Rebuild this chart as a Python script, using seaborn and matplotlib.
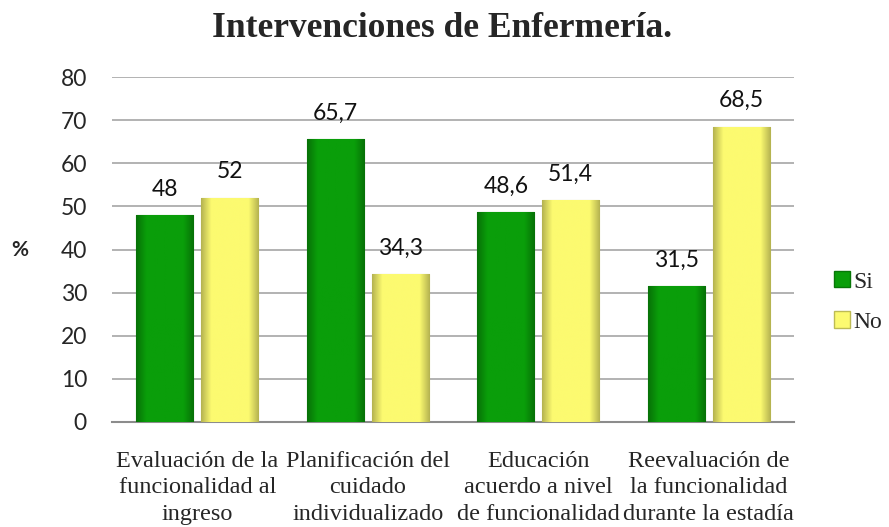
import matplotlib
matplotlib.use("Agg")
import matplotlib.pyplot as plt
import matplotlib.colors as mcolors
from matplotlib.patches import Patch
import seaborn as sns
import pandas as pd
import numpy as np

# Data
categories = [
    "Evaluación de la\nfuncionalidad al\ningreso",
    "Planificación del\ncuidado\nindividualizado",
    "Educación\nacuerdo a nivel\nde funcionalidad",
    "Reevaluación de\nla funcionalidad\ndurante la estadía",
]
si_values = [48, 65.7, 48.6, 31.5]
no_values = [52, 34.3, 51.4, 68.5]
series_names = ["Si", "No"]

df = pd.DataFrame({
    "Categoria": categories * 2,
    "Respuesta": [series_names[0]] * 4 + [series_names[1]] * 4,
    "Valor": si_values + no_values,
})

sns.set_style("white")
plt.rcParams["font.family"] = ["Liberation Serif", "DejaVu Serif"]
SANS = ["Lato", "DejaVu Sans"]

fig = plt.figure(figsize=(8.89, 5.27), dpi=100)
ax = fig.add_axes([112 / 889, 1 - 422 / 527, (794 - 112) / 889, (422 - 77) / 527])

palette = {"Si": "#0a9e0a", "No": "#fcfa70"}
sns.barplot(data=df, x="Categoria", y="Valor", hue="Respuesta", palette=palette,
            width=0.76, gap=0.12, ax=ax, legend=False, saturation=1,
            edgecolor="none", zorder=3)

# soft bevel: horizontal gradient clipped to each bar
profile = np.concatenate([np.linspace(0.72, 1.0, 12), np.ones(40), np.linspace(1.0, 0.72, 12)])
for patch in ax.patches:
    base = np.array(mcolors.to_rgb(patch.get_facecolor()))
    x0, y0 = patch.get_x(), patch.get_y()
    w, h = patch.get_width(), patch.get_height()
    img = np.clip(base[None, None, :] * profile[None, :, None], 0, 1)
    im = ax.imshow(img, extent=[x0, x0 + w, y0, y0 + h], aspect="auto",
                   zorder=3.5, interpolation="bilinear")
    im.set_clip_path(patch)
    patch.set_edgecolor(tuple(base * 0.75))
    patch.set_linewidth(0.8)

for cont in ax.containers:
    labels = [f"{v:g}".replace(".", ",") for v in cont.datavalues]
    ax.bar_label(cont, labels=labels, padding=11, fontsize=16.5,
                 family=SANS, color="#111111", zorder=5)

ax.set_ylim(0, 80)
ax.set_xlim(-0.5, 3.5)
ax.set_yticks(range(0, 81, 10))
ax.yaxis.grid(True, color="#a6a6a6", linewidth=1.2, zorder=0)
ax.set_axisbelow(True)
for side in ["top", "right", "left"]:
    ax.spines[side].set_visible(False)
ax.spines["bottom"].set_color("#8c8c8c")
ax.spines["bottom"].set_linewidth(1.5)
ax.tick_params(axis="y", length=0, pad=18)
ax.tick_params(axis="x", length=0, pad=21)
for lbl in ax.get_yticklabels():
    lbl.set_family(SANS)
    lbl.set_fontsize(16.5)
for lbl in ax.get_xticklabels():
    lbl.set_fontsize(17.5)
    lbl.set_linespacing(1.33)

ax.set_xlabel("")
ax.set_ylabel("%", rotation=0, fontsize=15, fontweight="bold",
              family=SANS, labelpad=29, va="center")

fig.text(442 / 889, 1 - 37 / 527, "Intervenciones de Enfermería.",
         ha="center", va="baseline", fontsize=25.5, fontweight="bold")

handles = [Patch(facecolor=palette[n], edgecolor=tuple(np.array(mcolors.to_rgb(palette[n])) * 0.75))
           for n in series_names]
fig.legend(handles, series_names, loc="center left", bbox_to_anchor=(813 / 889, 1 - 302 / 527),
           frameon=False, fontsize=17, handlelength=0.68, handleheight=0.68,
           handletextpad=0.12, labelspacing=0.8)

fig.savefig("out.png", dpi=100)
